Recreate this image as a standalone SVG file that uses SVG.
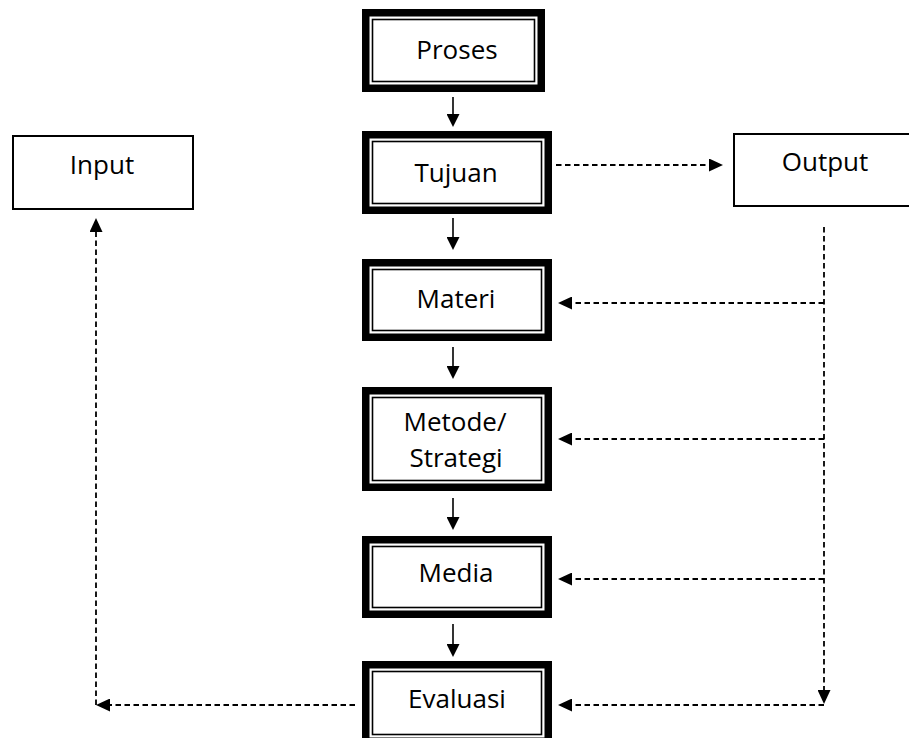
<svg xmlns="http://www.w3.org/2000/svg" width="909" height="738" viewBox="0 0 909 738">
  <style>
    .outer { fill: #ffffff; stroke: #000000; stroke-width: 7.5; }
    .inner { fill: none; stroke: #000000; stroke-width: 1.6; }
    .plain { fill: #ffffff; stroke: #000000; stroke-width: 2; }
    .label { font-family: "Open Sans", "Noto Sans", sans-serif; font-size: 26px; fill: #000000; text-anchor: middle; }
    .solid { stroke: #000000; stroke-width: 1.6; fill: none; marker-end: url(#headSolid); }
    .dashArrow { stroke: #000000; stroke-width: 1.8; fill: none; stroke-dasharray: 5.5 3.5; marker-end: url(#headDash); }
  </style>
  <defs>
    <marker id="headSolid" viewBox="0 0 13 13" markerWidth="13" markerHeight="13" refX="11" refY="6.5" orient="auto" markerUnits="userSpaceOnUse">
      <path d="M0,0 L13,6.5 L0,13 z" fill="#000000"/>
    </marker>
    <marker id="headDash" viewBox="0 0 14 13" markerWidth="14" markerHeight="13" refX="12" refY="6.5" orient="auto" markerUnits="userSpaceOnUse">
      <path d="M0,0 L14,6.5 L0,13 z" fill="#000000"/>
    </marker>
  </defs>

  <g id="connectors">
    <line class="solid" x1="453" y1="97" x2="453" y2="125"/>
    <line class="solid" x1="453" y1="218" x2="453" y2="248"/>
    <line class="solid" x1="453" y1="347" x2="453" y2="377"/>
    <line class="solid" x1="453" y1="498" x2="453" y2="528"/>
    <line class="solid" x1="453" y1="624" x2="453" y2="655"/>
    <line class="dashArrow" x1="556" y1="165" x2="721" y2="165"/>
    <line class="dashArrow" x1="824" y1="227" x2="824" y2="702"/>
    <line class="dashArrow" x1="824" y1="303" x2="560" y2="303"/>
    <line class="dashArrow" x1="824" y1="439" x2="560" y2="439"/>
    <line class="dashArrow" x1="824" y1="579" x2="560" y2="579"/>
    <line class="dashArrow" x1="824" y1="705" x2="560" y2="705"/>
    <line class="dashArrow" x1="355" y1="705" x2="98" y2="705"/>
    <line class="dashArrow" x1="96" y1="705" x2="96" y2="220"/>
  </g>

  <g id="node-input">
    <rect class="plain" x="13" y="136" width="180" height="73"/>
    <text class="label" x="102" y="174">Input</text>
  </g>

  <g id="node-output">
    <rect class="plain" x="734" y="134" width="190" height="72"/>
    <text class="label" x="825" y="171">Output</text>
  </g>

  <g id="node-proses">
    <rect class="outer" x="365.75" y="12.75" width="175.5" height="75.5"/>
    <rect class="inner" x="372.5" y="19.5" width="162" height="62"/>
    <text class="label" x="457" y="59">Proses</text>
  </g>

  <g id="node-tujuan">
    <rect class="outer" x="365.75" y="134.75" width="182.5" height="75.5"/>
    <rect class="inner" x="372.5" y="141.5" width="169" height="62"/>
    <text class="label" x="456" y="182">Tujuan</text>
  </g>

  <g id="node-materi">
    <rect class="outer" x="365.75" y="262.75" width="182.5" height="74.5"/>
    <rect class="inner" x="372.5" y="269.5" width="169" height="61"/>
    <text class="label" x="456" y="308">Materi</text>
  </g>

  <g id="node-metode">
    <rect class="outer" x="365.75" y="390.75" width="182.5" height="96.5"/>
    <rect class="inner" x="372.5" y="397.5" width="169" height="83"/>
    <text class="label" x="455" y="431">Metode/</text>
    <text class="label" x="456" y="467">Strategi</text>
  </g>

  <g id="node-media">
    <rect class="outer" x="365.75" y="539.75" width="182.5" height="74.5"/>
    <rect class="inner" x="372.5" y="546.5" width="169" height="61"/>
    <text class="label" x="456" y="582">Media</text>
  </g>

  <g id="node-evaluasi">
    <rect class="outer" x="365.75" y="664.75" width="182.5" height="76.5"/>
    <rect class="inner" x="372.5" y="671.5" width="169" height="63"/>
    <text class="label" x="457" y="708">Evaluasi</text>
  </g>
</svg>
